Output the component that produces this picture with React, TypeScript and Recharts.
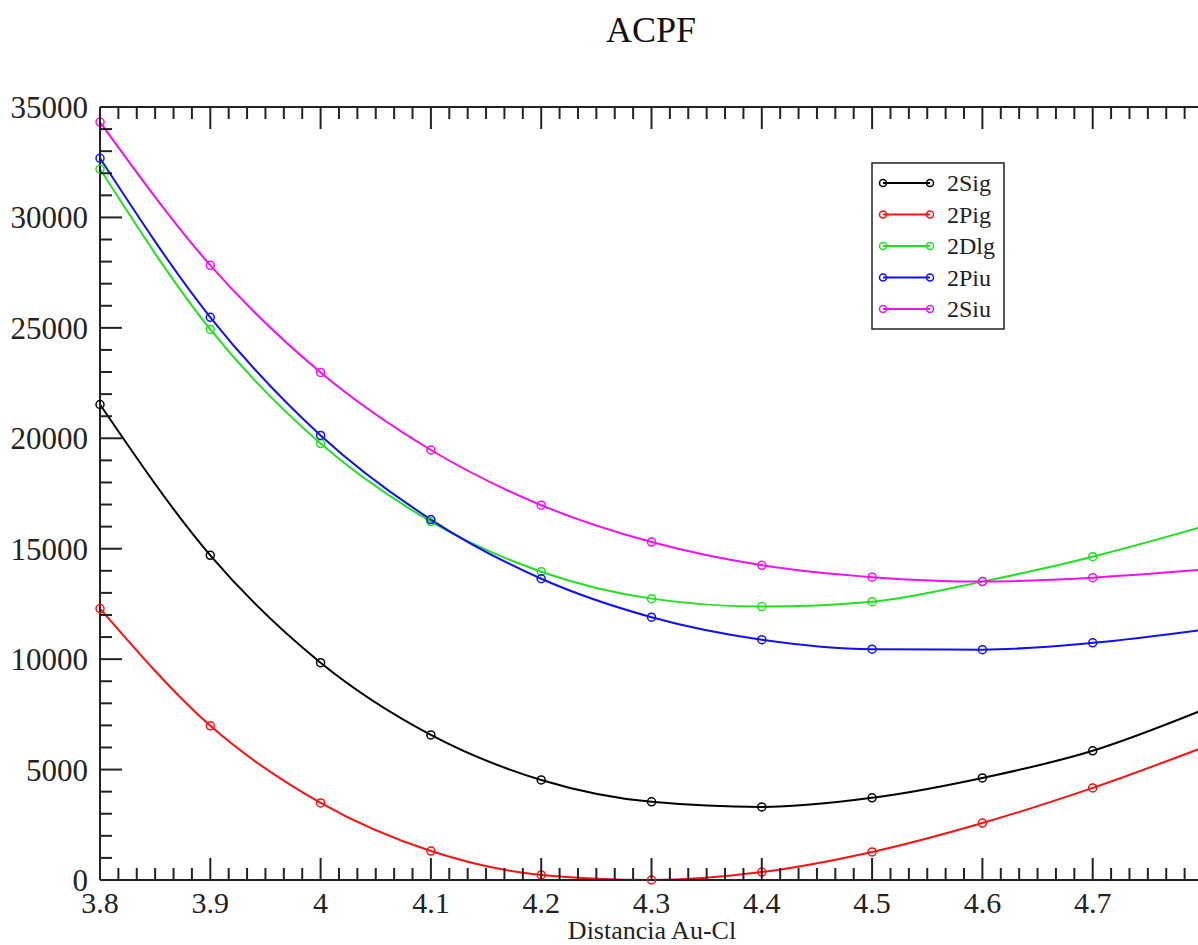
import React from 'react';
import { LineChart, Line, XAxis, YAxis } from 'recharts';

// Distancia Au-Cl (x) and ACPF energies per state
const distances = [3.8, 3.9, 4.0, 4.1, 4.2, 4.3, 4.4, 4.5, 4.6, 4.7, 4.8];
const sig2 = [21530, 14700, 9840, 6570, 4530, 3540, 3310, 3720, 4620, 5850, 7700];
const pig2 = [12290, 6980, 3490, 1310, 230, 0, 360, 1270, 2580, 4170, 6000];
const dlg2 = [32190, 24930, 19760, 16230, 13960, 12740, 12380, 12600, 13510, 14640, 16000];
const piu2 = [32680, 25480, 20130, 16320, 13640, 11900, 10880, 10450, 10430, 10740, 11330];
const siu2 = [34320, 27830, 22980, 19470, 16970, 15300, 14250, 13710, 13510, 13690, 14050];

const xMajor = [3.8, 3.9, 4.0, 4.1, 4.2, 4.3, 4.4, 4.5, 4.6, 4.7, 4.8];
const xHidden = [4.8];
const yMajor = [0, 5000, 10000, 15000, 20000, 25000, 30000, 35000];

const series = [
  { key: 'sig2', name: '2Sig', color: '#000000', values: sig2 },
  { key: 'pig2', name: '2Pig', color: '#ff1010', values: pig2 },
  { key: 'dlg2', name: '2Dlg', color: '#22e022', values: dlg2 },
  { key: 'piu2', name: '2Piu', color: '#1010f0', values: piu2 },
  { key: 'siu2', name: '2Siu', color: '#f010f0', values: siu2 },
];

const data = distances.map((x, i) => {
  const row: Record<string, number> = { x };
  series.forEach((s) => (row[s.key] = s.values[i]));
  return row;
});

// minor ticks: 5 between x majors, 4 between y majors
const xTicks: number[] = [];
xMajor.forEach((v, i) => {
  xTicks.push(v);
  if (i < xMajor.length - 1) {
    for (let k = 1; k < 6; k++) xTicks.push(v + (k * (xMajor[i + 1] - v)) / 6);
  }
});
const yTicks: number[] = [];
yMajor.forEach((v, i) => {
  yTicks.push(v);
  if (i < yMajor.length - 1) {
    for (let k = 1; k < 5; k++) yTicks.push(v + (k * (yMajor[i + 1] - v)) / 5);
  }
});

const isXMajor = (v: number) => xMajor.some((m) => Math.abs(m - v) < 1e-6);
const isYMajor = (v: number) => yMajor.some((m) => Math.abs(m - v) < 1e-6);

const FONT = '"Liberation Serif", "Times New Roman", serif';
const MAJOR = 22;
const MINOR = 12;
const TICK_COLOR = '#222';

const BottomTick = (props: any) => {
  const { x, y, payload } = props;
  const major = isXMajor(payload.value);
  const hidden = xHidden.some((h) => Math.abs(h - payload.value) < 1e-6);
  return (
    <g>
      <line x1={x} x2={x} y1={y} y2={y - (major ? MAJOR : MINOR)} stroke={TICK_COLOR} strokeWidth={2} />
      {major && !hidden && (
        <text x={x} y={y + 33} textAnchor="middle" fontSize={30} fontFamily={FONT} fill="#222">
          {String(Math.round(payload.value * 10) / 10)}
        </text>
      )}
    </g>
  );
};

const TopTick = (props: any) => {
  const { x, y, payload } = props;
  const major = isXMajor(payload.value);
  return <line x1={x} x2={x} y1={y} y2={y + (major ? MAJOR : MINOR)} stroke={TICK_COLOR} strokeWidth={2} />;
};

const LeftTick = (props: any) => {
  const { x, y, payload } = props;
  const major = isYMajor(payload.value);
  return (
    <g>
      <line x1={x} x2={x + (major ? MAJOR : MINOR)} y1={y} y2={y} stroke={TICK_COLOR} strokeWidth={2} />
      {major && (
        <text x={x - 12} y={y + 11} textAnchor="end" fontSize={31} fontFamily={FONT} fill="#222">
          {payload.value}
        </text>
      )}
    </g>
  );
};

const RightTick = (props: any) => {
  const { x, y, payload } = props;
  const major = isYMajor(payload.value);
  return <line x1={x} x2={x - (major ? MAJOR : MINOR)} y1={y} y2={y} stroke={TICK_COLOR} strokeWidth={2} />;
};

const LegendBox = () => (
  <svg width={134} height={168} style={{ position: 'absolute', left: 871, top: 162 }}>
    <rect x={1} y={1} width={132} height={166} fill="#fff" stroke="#222" strokeWidth={1.5} />
    {series.map((s, i) => {
      const cy = 21 + i * 31.5;
      return (
        <g key={s.key}>
          <line x1={12} x2={59} y1={cy} y2={cy} stroke={s.color} strokeWidth={2} />
          <circle cx={12} cy={cy} r={3.5} fill="none" stroke={s.color} strokeWidth={1.5} />
          <circle cx={59} cy={cy} r={3.5} fill="none" stroke={s.color} strokeWidth={1.5} />
          <text x={76} y={cy + 8} fontSize={24} fontFamily={FONT} fill="#222">
            {s.name}
          </text>
        </g>
      );
    })}
  </svg>
);

export default function App() {
  return (
    <div
      style={{
        position: 'fixed',
        left: 0,
        top: 0,
        width: 1198,
        height: 945,
        overflow: 'hidden',
        background: '#fff',
      }}
    >
      <LineChart width={1230} height={945} data={data} margin={{ top: 106, right: 26, bottom: 0, left: 0 }}>
        <XAxis
          dataKey="x"
          type="number"
          domain={[3.8, 4.8]}
          ticks={xTicks}
          interval={0}
          height={65}
          tickSize={0}
          tickMargin={0}
          axisLine={{ stroke: TICK_COLOR, strokeWidth: 2 }}
          tickLine={false}
          tick={<BottomTick />}
        />
        <XAxis
          xAxisId="top"
          orientation="top"
          dataKey="x"
          type="number"
          domain={[3.8, 4.8]}
          ticks={xTicks}
          interval={0}
          height={1}
          tickSize={0}
          tickMargin={0}
          axisLine={{ stroke: TICK_COLOR, strokeWidth: 2 }}
          tickLine={false}
          tick={<TopTick />}
        />
        <YAxis
          type="number"
          domain={[0, 35000]}
          ticks={yTicks}
          interval={0}
          width={100}
          tickSize={0}
          tickMargin={0}
          axisLine={{ stroke: TICK_COLOR, strokeWidth: 2 }}
          tickLine={false}
          tick={<LeftTick />}
        />
        <YAxis
          yAxisId="right"
          orientation="right"
          type="number"
          domain={[0, 35000]}
          ticks={yTicks}
          interval={0}
          width={1}
          tickSize={0}
          tickMargin={0}
          axisLine={{ stroke: TICK_COLOR, strokeWidth: 2 }}
          tickLine={false}
          tick={<RightTick />}
        />
        {series.map((s) => (
          <Line
            key={s.key}
            dataKey={s.key}
            name={s.name}
            type="monotone"
            stroke={s.color}
            strokeWidth={2}
            dot={{ r: 4, fill: 'none', stroke: s.color, strokeWidth: 1.5 }}
            isAnimationActive={false}
          />
        ))}
      </LineChart>
      <LegendBox />
      <svg
        width={1198}
        height={945}
        style={{ position: 'absolute', left: 0, top: 0, pointerEvents: 'none' }}
      >
        <text x={651} y={42} textAnchor="middle" fontSize={36} fontFamily={FONT} fill="#111">
          ACPF
        </text>
        <text x={652} y={939} textAnchor="middle" fontSize={26} fontFamily={FONT} fill="#222">
          Distancia Au-Cl
        </text>
      </svg>
    </div>
  );
}
